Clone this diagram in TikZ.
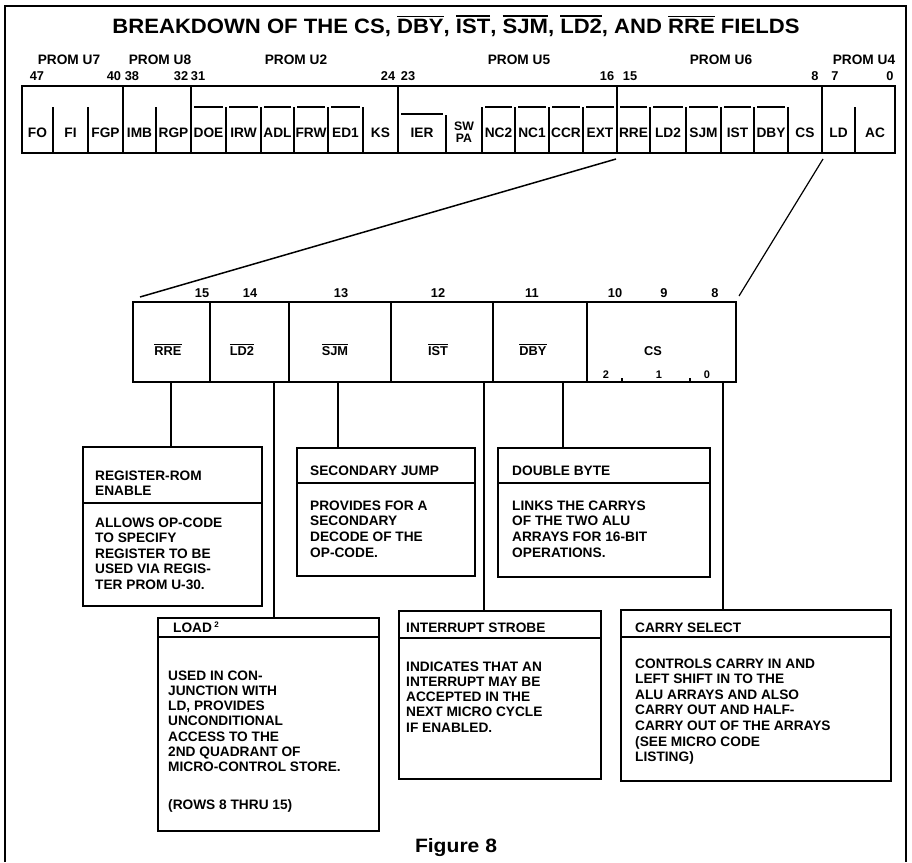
\documentclass[tikz,border=0pt]{standalone}
\usepackage{fontspec}
\setmainfont{Liberation Sans}
\usepackage{graphicx}
\newsavebox\ovbox
\newcommand\ovl[1]{\sbox\ovbox{#1}\rlap{\smash{\rule[\dimexpr\ht\ovbox+0.13em\relax]{\wd\ovbox}{0.07em}}}\usebox\ovbox}
\newcommand\bodyfont{\fontsize{13.7}{16}\selectfont\bfseries}
\newcommand\regfont{\fontsize{13.7}{16}\selectfont\bfseries}
\newcommand\xregfont{\fontsize{12.8}{16}\selectfont\bfseries}
\newcommand\tlines[5]{\foreach \t [count=\i from 0] in {#5} {\node[txt, name=#1\i] at (#2, #3+\i*#4) {\t};}}
\begin{document}
\begin{tikzpicture}[x=1pt,y=-1pt,
  frame/.style={line width=1.3pt},
  reg/.style={line width=2.2pt},
  grp/.style={line width=1.4pt},
  div/.style={line width=1.2pt},
  conn/.style={line width=1.2pt},
  dbox/.style={draw, line width=2.2pt, rectangle, inner sep=0pt, anchor=north west},
  hdiv/.style={line width=1.6pt},
  lbl/.style={font=\regfont, inner sep=0pt, anchor=base},
  xlbl/.style={font=\xregfont, inner sep=0pt, anchor=base},
  txt/.style={font=\bodyfont, inner sep=0pt, anchor=base west}]
\useasboundingbox (0,0) rectangle (912,862);
% outer frame
\draw[frame] (5,862) -- (5,6) -- (906,6) -- (906,862);
% title
\node[inner sep=0pt, anchor=base, name=title] at (456,34)
  {\resizebox{687pt}{14.5pt}{\bfseries BREAKDOWN OF THE CS, \ovl{DBY}, \ovl{IST}, \ovl{SJM}, \ovl{LD2}, AND \ovl{RRE} FIELDS}};
% PROM labels
\foreach \nm/\xc in {U7/69, U8/160, U2/296, U5/519, U6/721, U4/864}
  \node[lbl, name=p\nm] at (\xc,64) {PROM \nm};
% bit numbers
\foreach \nm/\xc in {47/37, 40/114, 38/132, 32/181, 31/198, 24/388, 23/408, 16/607, 15/630, 8/815, 7/835, 0/890}
  \node[xlbl, name=b\nm] at (\xc,80.5) {\nm};
% top register
\draw[reg] (22,86) rectangle (895,153);
\foreach \xx in {123,191,398,617,822} \draw[grp] (\xx,86) -- (\xx,153);
\foreach \xx in {53,88,156,226,261,294,328,363,482,515,549,583,650,686,721,754,788,855} \draw[div] (\xx,107) -- (\xx,153);
\draw[div] (446,115) -- (446,153);
\foreach \a/\b in {191/226,226/261,261/294,294/328,328/363,482/515,515/549,549/583,583/617,617/650,650/686,686/721,721/754,754/788}
  \draw[div] (\a+3,107) -- (\b-3,107);
\draw[div] (401,114) -- (443,114);
\foreach \nm/\xc in {FO/37.5, FI/70.5, FGP/105.5, IMB/139.5, RGP/173.5, DOE/208.5, IRW/243.5, ADL/277.5, FRW/311, ED1/345.5, KS/380.5, IER/422, NC2/498.5, NC1/532, CCR/566, EXT/600, RRE/633.5, LD2/668, SJM/703.5, IST/737.5, DBY/771, CS/805, LD/838.5, AC/875}
  \node[lbl, name=f\nm] at (\xc,137) {\nm};
\node[lbl, font=\fontsize{12.3}{13}\selectfont\bfseries, name=fSW] at (464,130) {SW};
\node[lbl, font=\fontsize{12.3}{13}\selectfont\bfseries, name=fPA] at (464,142.5) {PA};
% slanted leaders
\coordinate (t1) at (616,159); \coordinate (e1) at (140,297);
\coordinate (t2) at (823,159); \coordinate (e2) at (739,296);
\draw[line width=1.5pt] (t1) -- (e1);
\draw[conn] (t2) -- (e2);
% expanded register
\draw[reg] (133,302) rectangle (736,382);
\foreach \xx in {210,289,391,493,587} \draw[div] (\xx,302) -- (\xx,382);
\foreach \nm/\xc in {15/202, 14/250, 13/341, 12/438, 11/532, 10/615, 9/664, 8/715}
  \node[xlbl, name=x\nm] at (\xc,297) {\nm};
\node[xlbl, name=xRRE] at (168,355) {\ovl{RRE}};
\node[xlbl, name=xLD] at (242,355) {\ovl{LD2}};
\node[xlbl, name=xSJM] at (335,355) {\ovl{SJM}};
\node[xlbl, name=xIST] at (438,355) {\ovl{IST}};
\node[xlbl, name=xDBY] at (533,355) {\ovl{DBY}};
\node[xlbl, name=xCS] at (653,355) {CS};
\foreach \nm/\xc in {2/606, 1/659, 0/707}
  \node[lbl, font=\fontsize{11}{12}\selectfont\bfseries, name=s\nm] at (\xc,378) {\nm};
\draw[div] (622,382) -- (622,378);
\draw[div] (690,382) -- (690,378);
% description boxes
\node[dbox, minimum width=179pt, minimum height=159pt, name=rrbox] at (82,446) {};
\node[dbox, minimum width=178pt, minimum height=128pt, name=sjbox] at (296,447) {};
\node[dbox, minimum width=212pt, minimum height=129pt, name=dbbox] at (497,447) {};
\node[dbox, minimum width=221pt, minimum height=213pt, name=ldbox] at (157,617) {};
\node[dbox, minimum width=202pt, minimum height=168pt, name=isbox] at (398,610) {};
\node[dbox, minimum width=270pt, minimum height=171pt, name=csbox] at (620,609) {};
\draw[hdiv] (rrbox.west |- 0,503) -- (rrbox.east |- 0,503);
\draw[hdiv] (sjbox.west |- 0,483) -- (sjbox.east |- 0,483);
\draw[hdiv] (dbbox.west |- 0,483) -- (dbbox.east |- 0,483);
\draw[hdiv] (ldbox.west |- 0,637) -- (ldbox.east |- 0,637);
\draw[hdiv] (isbox.west |- 0,638) -- (isbox.east |- 0,638);
\draw[hdiv] (csbox.west |- 0,637) -- (csbox.east |- 0,637);
% connectors
\coordinate (cRRE) at (171,382); \draw[conn] (cRRE) -- (cRRE |- rrbox.north);
\coordinate (cLD) at (274,382); \draw[conn] (cLD) -- (cLD |- ldbox.north);
\coordinate (cSJM) at (338,382); \draw[conn] (cSJM) -- (cSJM |- sjbox.north);
\coordinate (cIST) at (484,382); \draw[conn] (cIST) -- (cIST |- isbox.north);
\coordinate (cDBY) at (563,382); \draw[conn] (cDBY) -- (cDBY |- dbbox.north);
\coordinate (cCS) at (723,382); \draw[conn] (cCS) -- (cCS |- csbox.north);
% texts
\tlines{rh}{95}{480}{15}{REGISTER-ROM, ENABLE}
\tlines{rb}{95}{527}{15.5}{ALLOWS OP-CODE, TO SPECIFY, REGISTER TO BE, USED VIA REGIS-, TER PROM U-30.}
\tlines{sh}{310}{475}{15}{SECONDARY JUMP}
\tlines{sb}{310}{510}{15.7}{PROVIDES FOR A, SECONDARY, DECODE OF THE, OP-CODE.}
\tlines{dh}{512}{475}{15}{DOUBLE BYTE}
\tlines{db}{512}{510}{15.7}{LINKS THE CARRYS, OF THE TWO ALU, ARRAYS FOR 16-BIT, OPERATIONS.}
\node[txt, name=lh] at (173,632) {LOAD\,\raisebox{0.3em}{\fontsize{8}{8}\selectfont 2}};
\tlines{lb}{168}{680}{15.3}{USED IN CON-, JUNCTION WITH, {LD, PROVIDES}, UNCONDITIONAL, ACCESS TO THE, 2ND QUADRANT OF, MICRO-CONTROL STORE.}
\node[txt, name=lrows] at (168,809) {(ROWS 8 THRU 15)};
\tlines{ih}{406}{632}{15}{INTERRUPT STROBE}
\tlines{ib}{406}{671}{15.3}{INDICATES THAT AN, INTERRUPT MAY BE, ACCEPTED IN THE, NEXT MICRO CYCLE, IF ENABLED.}
\tlines{ch}{635}{632}{15}{CARRY SELECT}
\tlines{cb}{635}{668}{15.6}{CONTROLS CARRY IN AND, LEFT SHIFT IN TO THE, ALU ARRAYS AND ALSO, CARRY OUT AND HALF-, CARRY OUT OF THE ARRAYS, {(SEE MICRO CODE}, {LISTING)}}
% caption
\node[inner sep=0pt, anchor=base, name=fig] at (456,852) {\resizebox{82pt}{14pt}{\bfseries Figure 8}};
\end{tikzpicture}
\end{document}
